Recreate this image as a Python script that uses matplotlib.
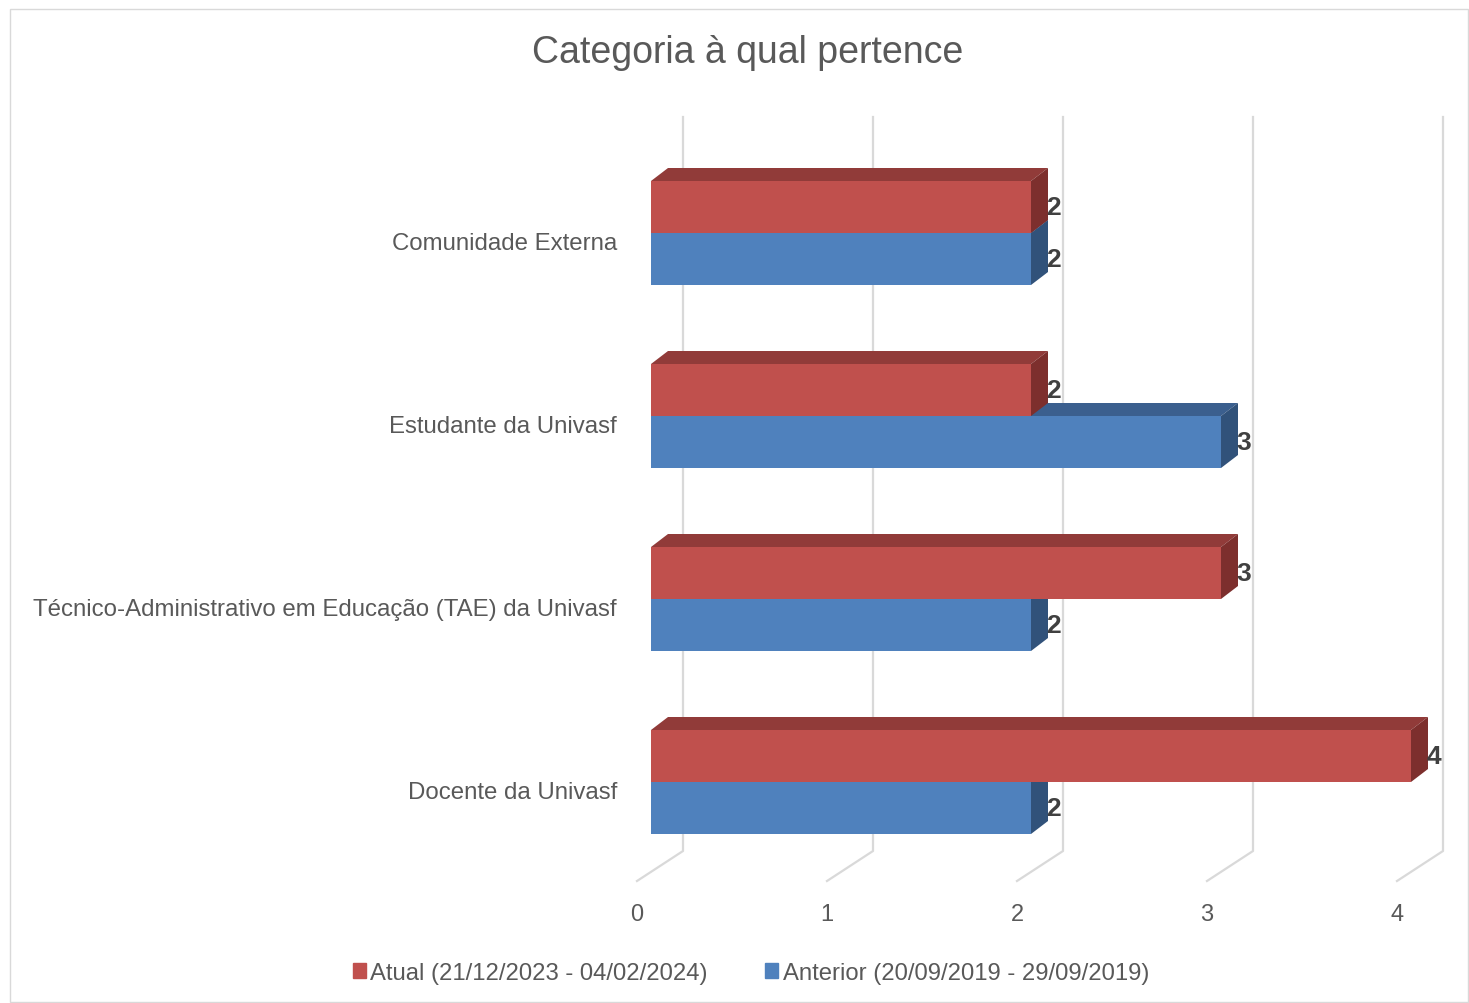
import matplotlib.pyplot as plt
from matplotlib.patches import Polygon, Patch, Rectangle

plt.rcParams['font.family'] = ['Liberation Sans', 'DejaVu Sans']

TITLE = 'Categoria à qual pertence'
categories = ['Docente da Univasf',
              'Técnico-Administrativo em Educação (TAE) da Univasf',
              'Estudante da Univasf',
              'Comunidade Externa']
atual = [4, 3, 2, 2]
anterior = [2, 2, 3, 2]
labels = ['Atual (21/12/2023 - 04/02/2024)', 'Anterior (20/09/2019 - 29/09/2019)']
ticks = [0, 1, 2, 3, 4]

# colours: front, top, side
RED = '#C0504D', '#913B39', '#7D2F2D'
BLUE = '#4F81BD', '#3B5F8E', '#31527A'
GRID = '#D9D9D9'
TXT = '#595959'

Y0 = 783              # pixel row of the lowest category centre
H = 52 / 183          # bar height (category units)
DX, DY = 17 / 190, 13 / 183   # bar depth offset
BACK, FRONT = 32 / 190, -14 / 190


def bar3d(ax, y, v, cols):
    ax.barh(y, v, height=H, left=0, align='edge', color=cols[0], zorder=3)
    top = [(0, y + H), (v, y + H), (v + DX, y + H + DY), (DX, y + H + DY)]
    side = [(v, y), (v, y + H), (v + DX, y + H + DY), (v + DX, y + DY)]
    ax.add_patch(Polygon(top, closed=True, color=cols[1], zorder=3, lw=0))
    ax.add_patch(Polygon(side, closed=True, color=cols[2], zorder=3, lw=0))
    ax.text(v + DX - 0.008, y + H / 2, str(v), fontsize=19, fontweight='bold',
            color='#404040', ha='left', va='center', zorder=5)


fig = plt.figure(figsize=(14.69, 10.04), dpi=100)
fig.patches.append(Rectangle((10 / 1469, 1 - 1003 / 1004), 1458 / 1469, 993 / 1004,
                             transform=fig.transFigure, fill=False, edgecolor=GRID, lw=1))
ax = fig.add_axes([600 / 1469, 1 - 900 / 1004, 860 / 1469, 790 / 1004])
ax.set_xlim((600 - 651) / 190, (1460 - 651) / 190)
ax.set_ylim((Y0 - 900) / 183, (Y0 - 110) / 183)
ax.axis('off')

# back wall gridlines + floor
gtop, gbot, gfront = (Y0 - 118) / 183, (Y0 - 852) / 183, (Y0 - 882) / 183
for t in ticks:
    ax.plot([t + BACK, t + BACK, t + FRONT], [gtop, gbot, gfront], color=GRID, lw=1.6,
            zorder=1, clip_on=False)
    ax.text(t + FRONT, (Y0 - 915) / 183, str(t), fontsize=17, color=TXT,
            ha='center', va='center', clip_on=False)

for i, cat in enumerate(categories):
    bar3d(ax, i - H, anterior[i], BLUE)
    bar3d(ax, i, atual[i], RED)
    ax.text((617 - 651) / 190, i - 10 / 183, cat, fontsize=17.3, color=TXT,
            ha='right', va='center', clip_on=False)

fig.text(748 / 1469, 1 - 53 / 1004, TITLE, fontsize=27, color=TXT, ha='center', va='center')

handles = [Patch(color=RED[0]), Patch(color=BLUE[0])]
fig.legend(handles, labels, loc='center', bbox_to_anchor=(751 / 1469, 1 - 974 / 1004),
           ncol=2, frameon=False, fontsize=17.2, handlelength=0.55, handleheight=0.55,
           handletextpad=0.18, columnspacing=2.4, labelcolor=TXT)

fig.savefig('out.png', dpi=100)
